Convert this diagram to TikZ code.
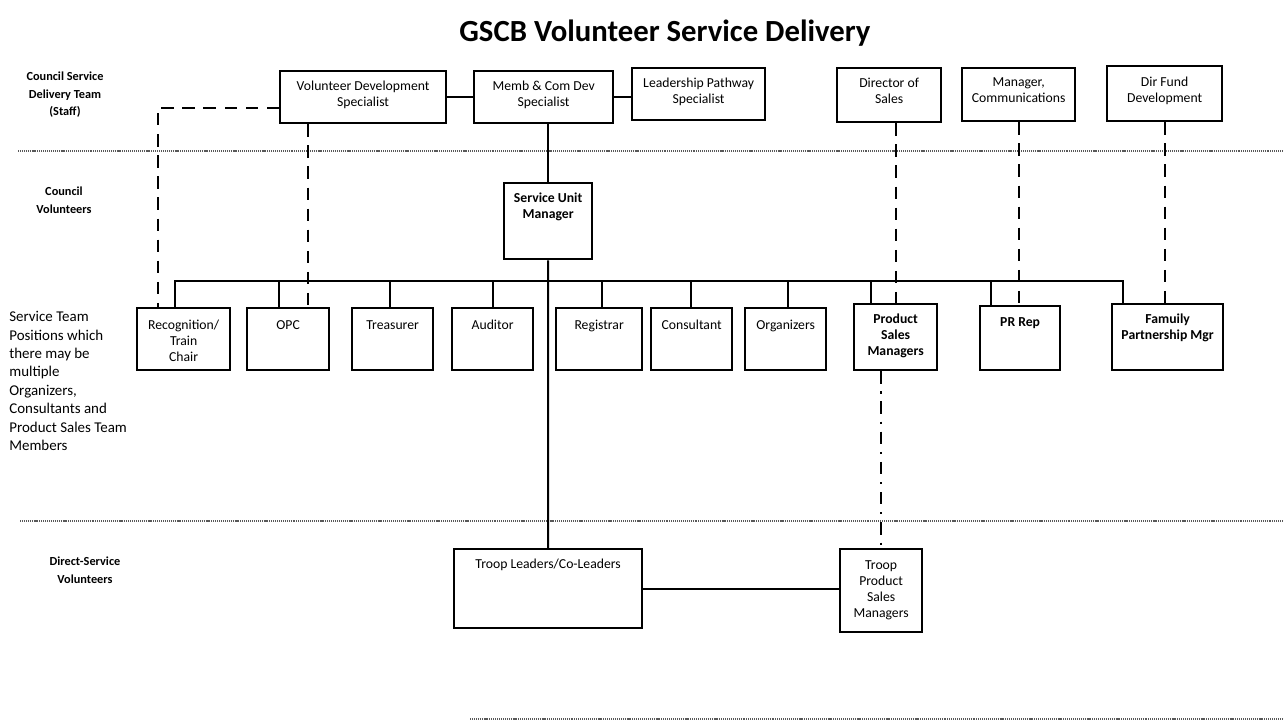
\documentclass[tikz,border=0pt]{standalone}
\usepackage{fontspec}
\setmainfont{Carlito}
\tikzset{box/.style = {draw, line width = 1.3pt, inner sep = 0, align = flush center, anchor = north west,
                       text height = .38cm, font = \fontsize{7.8}{9.2}\selectfont}}
\tikzset{dims/.style n args = {2}{text width = #1, text depth = #2}}
\tikzset{strong/.style = {font = \bfseries\fontsize{7.8}{9.2}\selectfont}}
\tikzset{rowlabel/.style = {align = center, font = \bfseries\fontsize{7}{10}\selectfont}}
\tikzset{link/.style = {line width = 1.1pt}}
\tikzset{staff/.style = {line width = 1.3pt, dash pattern = on 7pt off 5pt}}
\tikzset{sales/.style = {line width = 1.2pt, dash pattern = on 7pt off 4.5pt on 1.2pt off 4.5pt}}
\tikzset{level/.style = {line width = .6pt, black!65, dash pattern = on .6pt off .5pt}}
\begin{document}
\begin{tikzpicture}[x = .02cm, y = -.02cm]
      \useasboundingbox (0,0) rectangle (1284,723);
      \node[font = \bfseries\fontsize{17.5}{20}\selectfont] (title) at (665,33) {GSCB Volunteer Service Delivery};
      \node[rowlabel] (staffrow) at (65,95) {Council Service\\Delivery Team\\(Staff)};
      \node[rowlabel] (councilrow) at (64,200) {Council\\Volunteers};
      \node[align = left, anchor = north west, inner sep = 0, font = \fontsize{8.5}{10.5}\selectfont] (teamrow) at (9,311)
        {Service Team\\Positions which\\there may be\\multiple\\Organizers,\\Consultants and\\Product Sales Team\\Members};
      \node[rowlabel] (directrow) at (85,570) {Direct-Service\\Volunteers};
      \draw[level] (18,151) -- (1284,151);
      \draw[level] (20,521) -- (1284,521);
      \draw[level] (470,719) -- (1284,719);
      \node[box, dims = {3.32cm}{.66cm}] (vds) at (279,70) {Volunteer Development\\Specialist};
      \node[box, dims = {2.78cm}{.66cm}] (memb) at (473,70) {Memb \& Com Dev\\Specialist};
      \node[box, dims = {2.66cm}{.66cm}] (lead) at (631,67) {Leadership Pathway\\Specialist};
      \node[box, dims = {2.08cm}{.70cm}] (dos) at (836,67) {Director of\\Sales};
      \node[box, dims = {2.26cm}{.70cm}, text height = .36cm] (mgr) at (961,67) {Manager,\\Communications};
      \node[box, dims = {2.30cm}{.70cm}, text height = .40cm] (fund) at (1106,65) {Dir Fund\\Development};
      \node[box, strong, dims = {1.76cm}{1.14cm}] (sum) at (503,182) {Service Unit\\Manager};
      \node[box, dims = {1.86cm}{.82cm}, text height = .42cm] (rec) at (136,307) {Recognition/\\Train\\Chair};
      \node[box, dims = {1.64cm}{.82cm}, text height = .42cm] (opc) at (246,307) {OPC};
      \node[box, dims = {1.62cm}{.82cm}, text height = .42cm] (treas) at (351,307) {Treasurer};
      \node[box, dims = {1.62cm}{.82cm}, text height = .42cm] (aud) at (451,307) {Auditor};
      \node[box, dims = {1.72cm}{.82cm}, text height = .42cm] (reg) at (555,307) {Registrar};
      \node[box, dims = {1.62cm}{.82cm}, text height = .42cm] (cons) at (650,307) {Consultant};
      \node[box, dims = {1.62cm}{.82cm}, text height = .42cm] (org) at (744,307) {Organizers};
      \node[box, strong, dims = {1.66cm}{.94cm}] (psm) at (853,303) {Product\\Sales\\Managers};
      \node[box, strong, dims = {1.60cm}{.88cm}, text height = .40cm] (pr) at (979,305) {PR Rep};
      \node[box, strong, dims = {2.22cm}{.94cm}] (fam) at (1111,303) {Famuily\\Partnership Mgr};
      \node[box, dims = {3.76cm}{1.20cm}] (tl) at (453,548) {Troop Leaders/Co-Leaders};
      \node[box, dims = {1.64cm}{1.26cm}, text height = .40cm] (tpsm) at (839,548) {Troop\\Product\\Sales\\Managers};
      \draw[link] (vds) -- (memb);
      \draw[link] (memb.east) -- (memb.east -| lead.west);
      \draw[link] (memb.south -| sum.north) -- (sum.north);
      \draw[link] (sum.south) -- (tl.north);
      \coordinate (barL) at (175,281);
      \coordinate (barR) at (1123,281);
      \draw[link] (barL |- rec.north) -- (barL) -- (barR) -- (barR |- fam.north);
      \foreach \n/\x in {opc/279, treas/390, aud/493, reg/602, cons/691, org/788, psm/871, pr/991}
        {\coordinate (top\n) at (\x,281);
         \draw[link] (top\n) -- (top\n |- \n.north);}
      \draw[staff] ([yshift = -6pt]vds.west) -| ([xshift = 12.5pt]rec.north west);
      \coordinate (vdsdrop) at ([xshift = 16.4pt]vds.south west);
      \draw[staff] (vdsdrop) -- (vdsdrop |- opc.north);
      \coordinate (dosdrop) at ([xshift = 4pt]dos.south);
      \draw[staff] (dosdrop) -- (dosdrop |- psm.north);
      \draw[staff] (mgr.south) -- (mgr.south |- pr.north);
      \draw[staff] (fund.south) -- (fund.south |- fam.north);
      \draw[sales] (tpsm.north |- psm.south) -- (tpsm.north);
      \draw[link] (tl.east) -- (tl.east -| tpsm.west);
    \end{tikzpicture}
\end{document}
